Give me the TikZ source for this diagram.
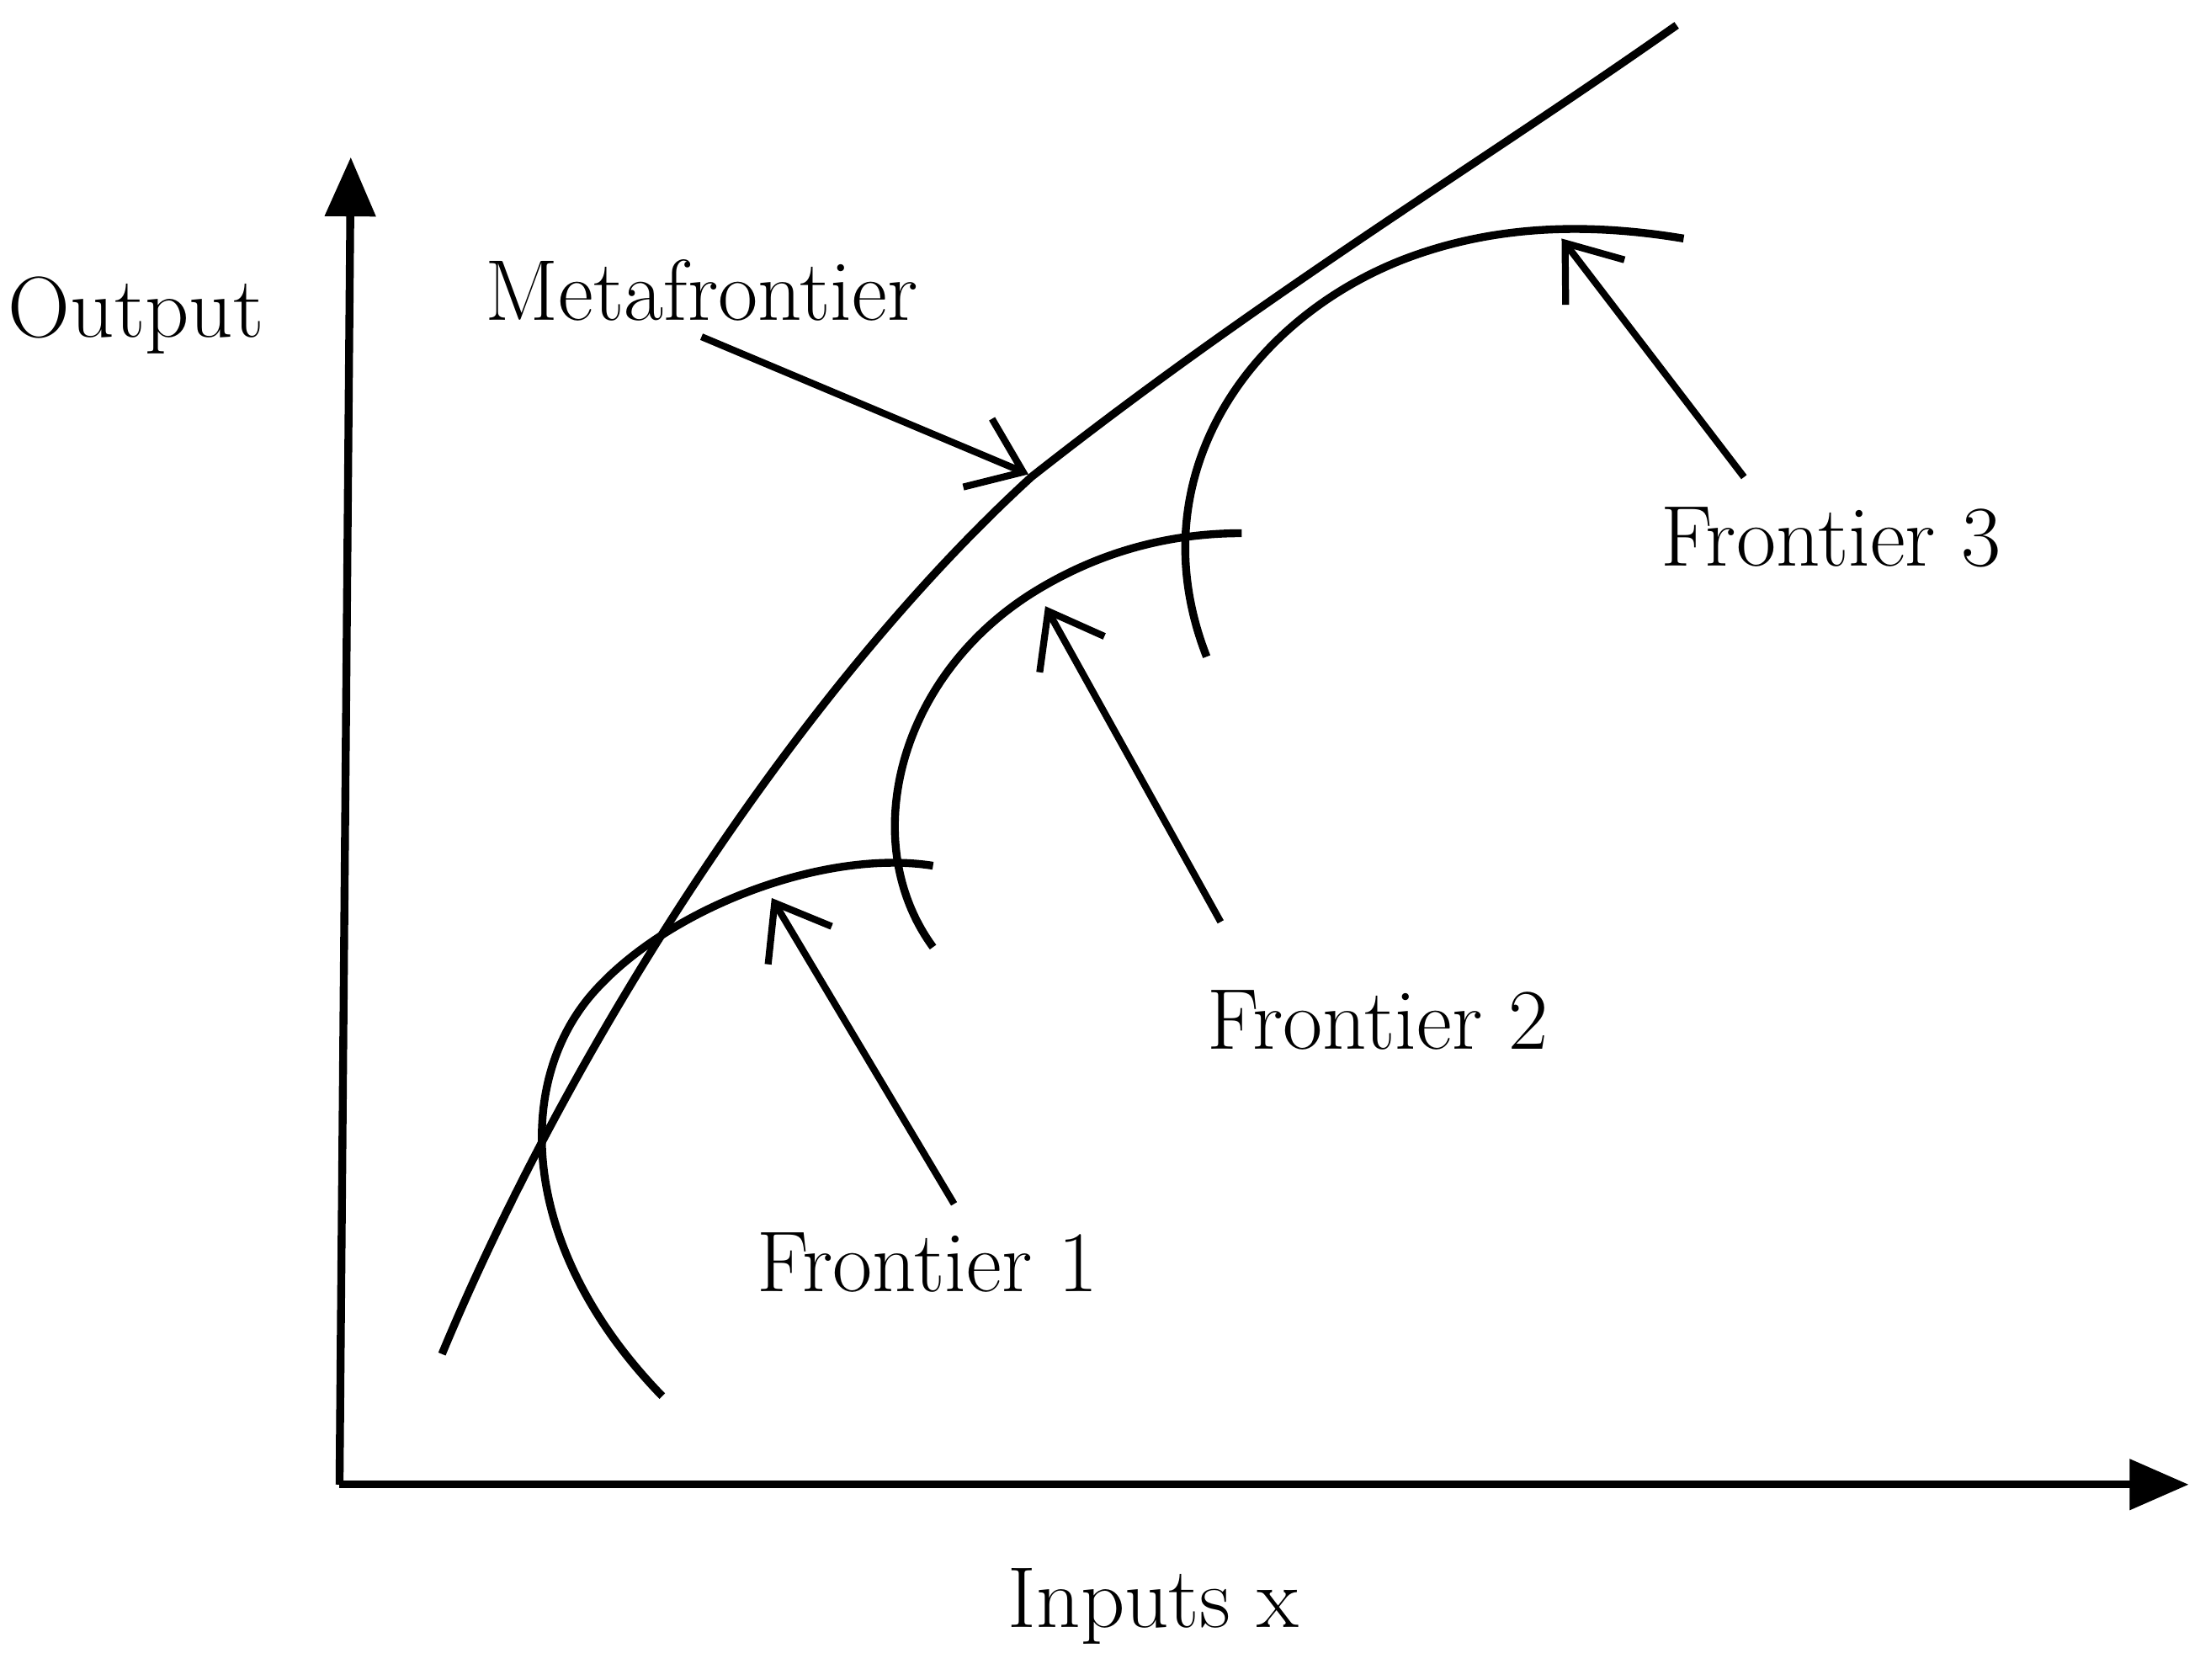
\documentclass[tikz,border=0pt]{standalone}
\usepackage{tikz}
\usetikzlibrary{arrows.meta}
\begin{document}
\begin{tikzpicture}[x=0.01cm,y=-0.01cm,line width=1.6pt,
  lbl/.style={font=\fontsize{17.5}{21}\selectfont},
  ptr/.style={-{Straight Barb[length=10pt,width=15pt]},line width=1.4pt}]
\useasboundingbox (0,0) rectangle (1568,1197);

%Axes
\coordinate (o) at (242,1058);
\draw[-{Triangle[length=12pt,width=10pt]}] (o) -- (250,112);
\draw[-{Triangle[length=12pt,width=10pt]}] (o) -- (1560,1058);

%Labels
\node[lbl] (out) at (97,225) {Output};
\node[lbl] (inp) at (822,1145) {Inputs x};
\node[lbl] (meta) at (500,207) {Metafrontier};
\node[lbl] (f1) at (661,900) {Frontier 1};
\node[lbl] (f2) at (982,727) {Frontier 2};
\node[lbl] (f3) at (1305,383) {Frontier 3};

%Metafrontier
\draw (315,965) .. controls (400,760) and (560,500) .. (735,340)
  .. controls (900,210) and (1050,120) .. (1195,18);

%Frontiers
\draw (472,995) .. controls (370,890) and (365,770) .. (425,705)
  .. controls (480,645) and (590,605) .. (665,617);
\draw (665,675) .. controls (610,600) and (640,480) .. (740,420)
  .. controls (790,390) and (840,380) .. (885,380);
\draw (860,468) .. controls (810,340) and (890,228) .. (1000,185)
  .. controls (1070,158) and (1140,160) .. (1200,170);

%Pointers
\coordinate (m) at (733,338);
\coordinate (p1) at (550,640);
\coordinate (p2) at (745,432);
\coordinate (p3) at (1113,170);
\draw[ptr] (500,240) -- (m);
\draw[ptr] (680,858) -- (p1);
\draw[ptr] (870,657) -- (p2);
\draw[ptr] (1243,340) -- (p3);
\end{tikzpicture}
\end{document}
